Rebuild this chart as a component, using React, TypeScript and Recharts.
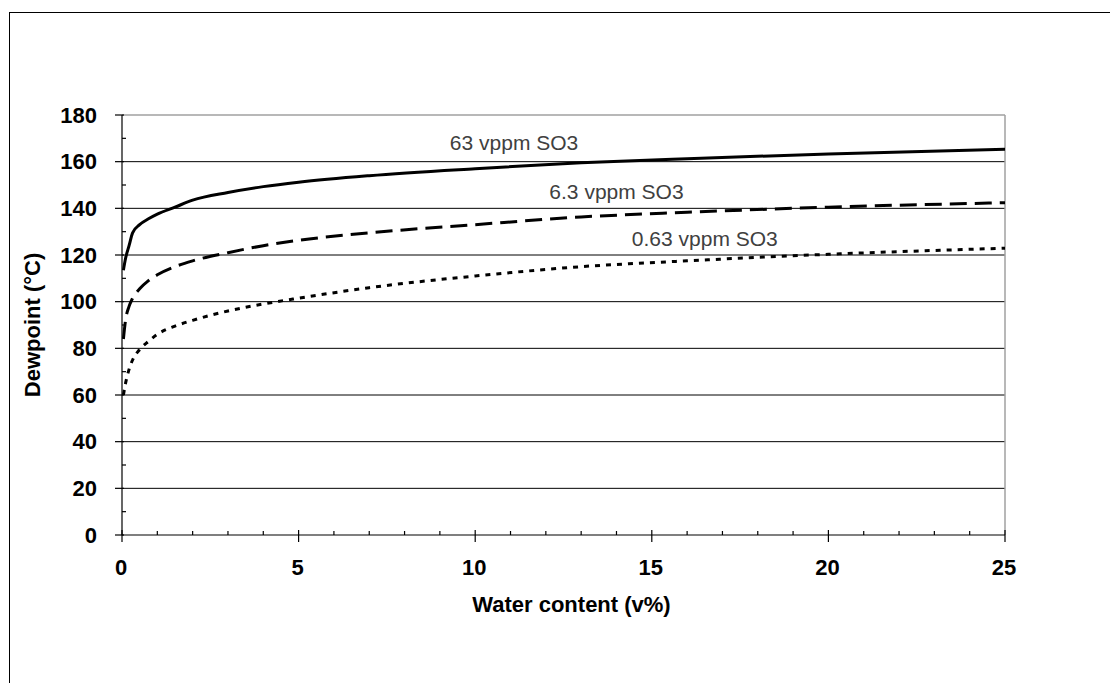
import { LineChart, Line, XAxis, YAxis, ReferenceLine, ReferenceDot } from 'recharts';

// water content (v%) at which the curves were read
const waterContent = [0.04, 0.1, 0.2, 0.3, 0.5, 0.75, 1, 1.5, 2, 3, 4, 5, 7, 10, 13, 16, 20, 25];
// dewpoint (°C) per SO3 level
const dew63 = [113.5, 118.5, 124, 129.5, 133, 135.5, 137.5, 140.5, 143.5, 146.8, 149.3, 151.2, 154, 157, 159.5, 161.3, 163.3, 165.3];
const dew6p3 = [84, 92, 98, 101.5, 105.5, 109, 111.5, 115, 117.5, 121, 124, 126.3, 129.5, 133, 136.3, 138.3, 140.5, 142.4];
const dew0p63 = [60, 65, 71, 75, 79.5, 83, 86, 89.5, 92, 96, 99, 101.5, 106, 111, 115, 117.5, 120.3, 122.9];

const seriesNames = ['63 vppm SO3', '6.3 vppm SO3', '0.63 vppm SO3'];

const xTicks = [0, 1, 2, 3, 4, 5, 6, 7, 8, 9, 10, 11, 12, 13, 14, 15, 16, 17, 18, 19, 20, 21, 22, 23, 24, 25];
const yTicks = [0, 10, 20, 30, 40, 50, 60, 70, 80, 90, 100, 110, 120, 130, 140, 150, 160, 170, 180];
const gridValues = [20, 40, 60, 80, 100, 120, 140, 160];

const data = waterContent.map((x, i) => ({
  x,
  s63: dew63[i],
  s6p3: dew6p3[i],
  s0p63: dew0p63[i],
}));

const FONT = '"Liberation Sans", Arial, sans-serif';

const XTick = (props: any) => {
  const { x, y, payload } = props;
  const v = payload.value;
  const major = v % 5 === 0;
  return (
    <g>
      {major ? (
        <line x1={x} x2={x} y1={y - 5} y2={y + 7} stroke="#000" strokeWidth={1.2} />
      ) : (
        <line x1={x} x2={x} y1={y - 4} y2={y} stroke="#000" strokeWidth={1.2} />
      )}
      {major && (
        <text x={x - 1} y={y + 32} textAnchor="middle" dominantBaseline="central"
          fontFamily={FONT} fontWeight="bold" fontSize={22} fill="#000">
          {v}
        </text>
      )}
    </g>
  );
};

const YTick = (props: any) => {
  const { x, y, payload } = props;
  const v = payload.value;
  const major = v % 20 === 0;
  return (
    <g>
      {major ? (
        <line x1={x - 7} x2={x + 2} y1={y} y2={y} stroke="#000" strokeWidth={1.2} />
      ) : (
        <line x1={x} x2={x + 4} y1={y} y2={y} stroke="#000" strokeWidth={1.2} />
      )}
      {major && (
        <text x={x - 25} y={y} textAnchor="end" dominantBaseline="central"
          fontFamily={FONT} fontWeight="bold" fontSize={22} fill="#000">
          {v}
        </text>
      )}
    </g>
  );
};

const seriesLabel = (text: string) => ({
  value: text,
  position: 'center' as const,
  fill: '#404040',
  fontSize: 21,
  fontFamily: FONT,
});

export default function App() {
  return (
    <div style={{ position: 'absolute', left: 9, top: 12, borderLeft: '1px solid #000', borderTop: '1px solid #000', background: '#fff' }}>
      <LineChart
        width={1100}
        height={670}
        data={data}
        margin={{ top: 102, right: 105, bottom: 88, left: 0 }}
      >
        {gridValues.map((v) => (
          <ReferenceLine key={v} y={v} stroke="#000" strokeWidth={1} />
        ))}
        <ReferenceLine y={180} stroke="#a0a0a0" strokeWidth={1.5} />
        <ReferenceLine x={25} stroke="#a0a0a0" strokeWidth={1.5} />
        <XAxis
          dataKey="x"
          type="number"
          domain={[0, 25]}
          ticks={xTicks}
          interval={0}
          height={60}
          tickSize={0}
          tickMargin={0}
          tickLine={false}
          axisLine={{ stroke: '#000', strokeWidth: 1.2 }}
          tick={<XTick />}
          allowDataOverflow
          label={{
            content: ({ viewBox }: any) => (
              <text x={viewBox.x + viewBox.width / 2 + 8} y={viewBox.y + 69} textAnchor="middle"
                dominantBaseline="central" fontFamily={FONT} fontWeight="bold" fontSize={22} fill="#000">
                Water content (v%)
              </text>
            ),
          }}
        />
        <YAxis
          type="number"
          domain={[0, 180]}
          ticks={yTicks}
          interval={0}
          width={112}
          tickSize={0}
          tickMargin={0}
          tickLine={false}
          axisLine={{ stroke: '#000', strokeWidth: 1.2 }}
          tick={<YTick />}
          allowDataOverflow
          label={{
            content: ({ viewBox }: any) => {
              const cx = viewBox.x + 22;
              const cy = viewBox.y + viewBox.height / 2;
              return (
                <text x={cx} y={cy} transform={`rotate(-90 ${cx} ${cy})`} textAnchor="middle"
                  dominantBaseline="central" fontFamily={FONT} fontWeight="bold" fontSize={22} fill="#000">
                  Dewpoint (°C)
                </text>
              );
            },
          }}
        />
        <Line type="monotone" dataKey="s63" stroke="#000" strokeWidth={3} dot={false} isAnimationActive={false} />
        <Line type="monotone" dataKey="s6p3" stroke="#000" strokeWidth={3} strokeDasharray="17 8" dot={false} isAnimationActive={false} />
        <Line type="monotone" dataKey="s0p63" stroke="#000" strokeWidth={3} strokeDasharray="5 6" dot={false} isAnimationActive={false} />
        <ReferenceDot x={11.1} y={168} r={0} fill="none" stroke="none" label={seriesLabel(seriesNames[0])} />
        <ReferenceDot x={14.0} y={147} r={0} fill="none" stroke="none" label={seriesLabel(seriesNames[1])} />
        <ReferenceDot x={16.5} y={127} r={0} fill="none" stroke="none" label={seriesLabel(seriesNames[2])} />
      </LineChart>
    </div>
  );
}
